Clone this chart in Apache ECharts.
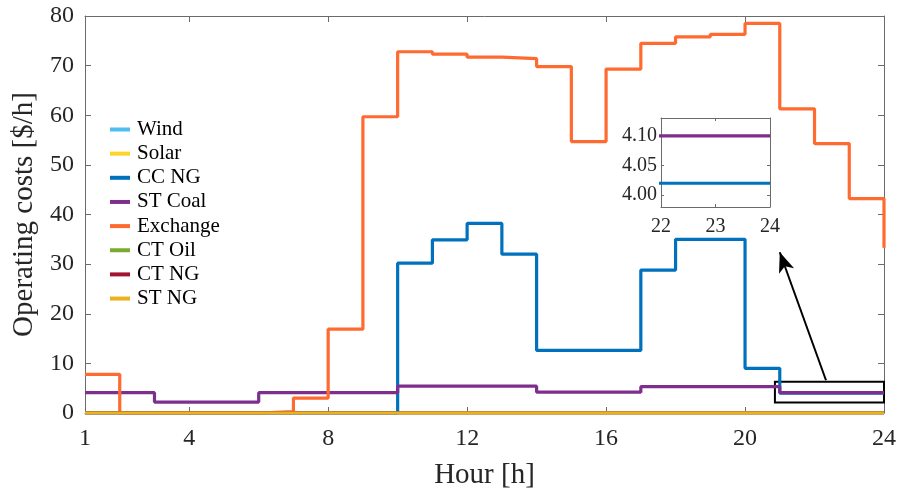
<!DOCTYPE html>
<html><head><meta charset="utf-8">
<script src="https://cdn.jsdelivr.net/npm/echarts@6/dist/echarts.min.js"></script>
<style>html,body{margin:0;padding:0;background:#fff}#c{width:899px;height:494px}</style>
</head><body><div id="c"></div>
<script>
const hours = [1,2,3,4,5,6,7,8,9,10,11,12,13,14,15,16,17,18,19,20,21,22,23,24];
const wind     = [0,0,0,0,0,0,0,0,0,0,0,0,0,0,0,0,0,0,0,0,0,0,0,0];
const solar    = [0,0,0,0,0,0,0,0,0,0,0,0,0,0,0,0,0,0,0,0,0,0,0,0];
const ccNG     = [0,0,0,0,0,0,0,0,0,30.2,34.9,38.2,32.0,12.6,12.6,12.6,28.8,35.0,35.0,9.0,4.02,4.02,4.02,4.02];
const stCoal   = [4.1,4.1,2.2,2.2,2.2,4.1,4.1,4.1,4.1,5.4,5.4,5.4,5.4,4.2,4.2,4.2,5.3,5.3,5.3,5.3,4.10,4.10,4.10,4.10];
const exchange = [7.8,0,0,0,0,0.3,3.0,16.9,59.7,72.8,72.3,71.7,71.4,69.8,54.7,69.3,74.5,75.8,76.3,78.5,61.3,54.3,43.2,33.3];
const ctOil    = [0,0,0,0,0,0,0,0,0,0,0,0,0,0,0,0,0,0,0,0,0,0,0,0];
const ctNG     = [0,0,0,0,0,0,0,0,0,0,0,0,0,0,0,0,0,0,0,0,0,0,0,0];
const stNG     = [0,0,0,0,0,0,0,0,0,0,0,0,0,0,0,0,0,0,0,0,0,0,0,0];
const seriesNames = ['Wind','Solar','CC NG','ST Coal','Exchange','CT Oil','CT NG','ST NG'];
const seriesColors = ['#4DBEEE','#FFD42A','#0072BD','#7E2F8E','#FF6A30','#77AC30','#A2142F','#EDB120'];
const seriesValues = [wind, solar, ccNG, stCoal, exchange, ctOil, ctNG, stNG];
const xTickLabels = [1,4,8,12,16,20,24];
const xTicks = [4,8,12,16,20];
const insetYTicks = [4.00,4.05,4.10];

const F = '"Liberation Serif","Times New Roman",serif';
const AX = '#6b6b6b';
const TXT = '#262626';
const pairs = v => hours.map((h,i)=>[h, v[i]]);

const axisBase = (extra) => Object.assign({
  type:'value',
  axisLine:{show:true, onZero:false, lineStyle:{color:AX, width:1}},
  splitLine:{show:false},
  axisTick:{show:true, inside:true, length:5, lineStyle:{color:AX}},
  axisLabel:{color:TXT, fontFamily:F, fontSize:24}
}, extra);

const series = [];
seriesNames.forEach((n,i)=>{
  const s = {
    name:n, type:'line', step:'end', xAxisIndex:0, yAxisIndex:0,
    data:pairs(seriesValues[i]), symbol:'none', color:seriesColors[i],
    lineStyle:{color:seriesColors[i], width:3.2}, animation:false, clip:true
  };
  if (n === 'ST Coal') {
    s.markArea = {silent:true, itemStyle:{color:'rgba(0,0,0,0)', borderColor:'#000', borderWidth:2},
      data:[[{coord:[20.86,2.1]},{coord:[24,6.3]}]]};
    s.markLine = {silent:true, symbol:['none','arrow'], symbolSize:[12,20],
      lineStyle:{color:'#000', width:2, type:'solid'}, label:{show:false},
      data:[[{coord:[22.33,6.6]},{coord:[21.0,32.4]}]]};
  }
  series.push(s);
});
// inset series (same data, zoomed)
['CC NG','ST Coal'].forEach(n=>{
  const i = seriesNames.indexOf(n);
  series.push({name:n, type:'line', step:'end', xAxisIndex:2, yAxisIndex:2,
    data:pairs(seriesValues[i]), symbol:'none', color:seriesColors[i],
    lineStyle:{color:seriesColors[i], width:3.2}, animation:false, clip:true});
});

const option = {
  backgroundColor:'#fff',
  animation:false,
  grid:[
    {left:85, top:16, width:799, height:397, outerBoundsMode:'none', containLabel:false},
    {left:661, top:118, width:109, height:89, backgroundColor:'#fff', show:true, borderWidth:0, outerBoundsMode:'none', containLabel:false}
  ],
  legend:{
    orient:'vertical', left:110, top:119, padding:0, itemGap:3.15, itemWidth:20, itemHeight:4, icon:'rect',
    data:seriesNames, textStyle:{fontFamily:F, fontSize:21, color:'#000', lineHeight:21, padding:[0,0,0,2]},
    selectedMode:false
  },
  xAxis:[
    axisBase({gridIndex:0, min:1, max:24, position:'bottom',
      name:'Hour [h]', nameLocation:'middle', nameGap:48,
      nameTextStyle:{fontFamily:F, fontSize:29, color:TXT},
      axisTick:{show:true, inside:true, length:6, lineStyle:{color:AX}, customValues:xTicks},
      axisLabel:{color:TXT, fontFamily:F, fontSize:24, margin:14, customValues:xTickLabels}}),
    axisBase({gridIndex:0, min:1, max:24, position:'top',
      axisTick:{show:true, inside:true, length:6, lineStyle:{color:AX}, customValues:xTicks},
      axisLabel:{show:false}}),
    axisBase({gridIndex:1, min:22, max:24, interval:1, position:'bottom',
      axisTick:{show:true, inside:true, length:3, lineStyle:{color:AX}},
      axisLabel:{color:TXT, fontFamily:F, fontSize:20, margin:10}}),
    axisBase({gridIndex:1, min:22, max:24, interval:1, position:'top',
      axisTick:{show:true, inside:true, length:3, lineStyle:{color:AX}},
      axisLabel:{show:false}})
  ],
  yAxis:[
    axisBase({gridIndex:0, min:0, max:80, interval:10, position:'left',
      name:'Operating costs [$/h]', nameLocation:'middle', nameGap:46,
      nameTextStyle:{fontFamily:F, fontSize:29, color:TXT},
      axisTick:{show:true, inside:true, length:6, lineStyle:{color:AX}},
      axisLabel:{color:TXT, fontFamily:F, fontSize:24, margin:11}}),
    axisBase({gridIndex:0, min:0, max:80, interval:10, position:'right',
      axisTick:{show:true, inside:true, length:6, lineStyle:{color:AX}},
      axisLabel:{show:false}}),
    axisBase({gridIndex:1, min:3.98, max:4.13, position:'left',
      axisTick:{show:true, inside:true, length:3, lineStyle:{color:AX}, customValues:insetYTicks},
      axisLabel:{color:TXT, fontFamily:F, fontSize:20, margin:4, customValues:insetYTicks,
        formatter:v=>Number(v).toFixed(2)}}),
    axisBase({gridIndex:1, min:3.98, max:4.13, position:'right',
      axisTick:{show:true, inside:true, length:3, lineStyle:{color:AX}, customValues:insetYTicks},
      axisLabel:{show:false}})
  ],
  series:series
};
const chart = echarts.init(document.getElementById('c'));
chart.setOption(option);
</script>
</body></html>
